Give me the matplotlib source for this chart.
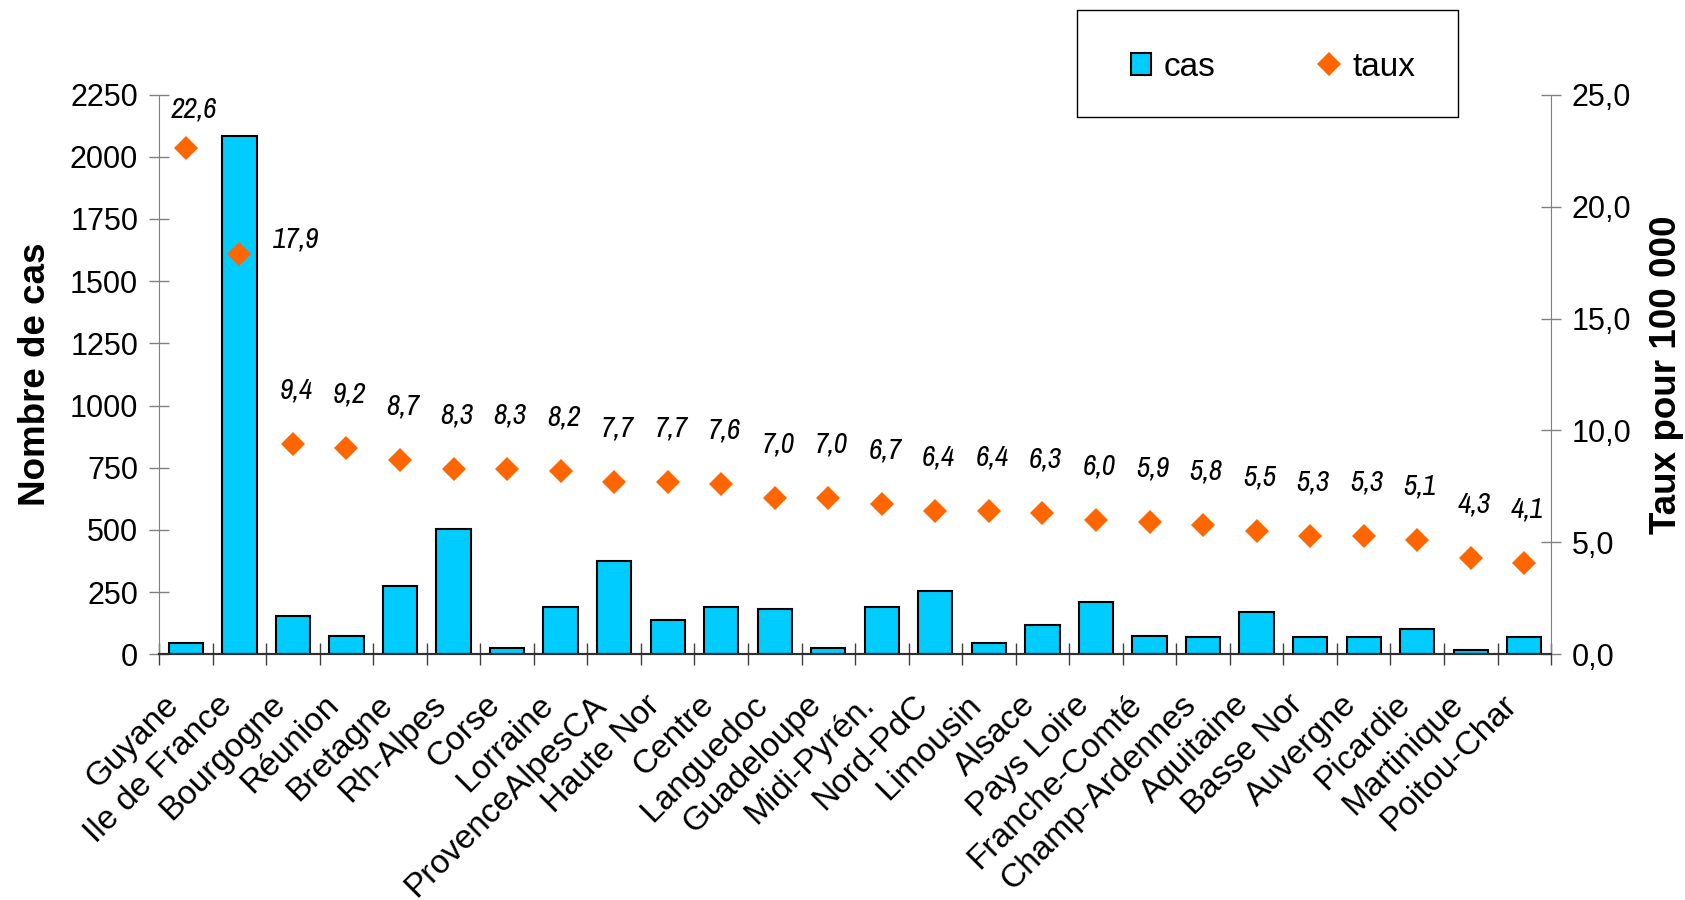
import numpy as np
import matplotlib
matplotlib.use('Agg')
import matplotlib.pyplot as plt
import matplotlib.transforms as mtransforms
from matplotlib.patches import Rectangle
from matplotlib.lines import Line2D

plt.rcParams['font.family'] = ['Liberation Sans', 'DejaVu Sans']

regions = ['Guyane', 'Ile de France', 'Bourgogne', 'Réunion', 'Bretagne', 'Rh-Alpes',
           'Corse', 'Lorraine', 'ProvenceAlpesCA', 'Haute Nor', 'Centre', 'Languedoc',
           'Guadeloupe', 'Midi-Pyrén.', 'Nord-PdC', 'Limousin', 'Alsace', 'Pays Loire',
           'Franche-Comté', 'Champ-Ardennes', 'Aquitaine', 'Basse Nor', 'Auvergne',
           'Picardie', 'Martinique', 'Poitou-Char']
cas = [45, 2085, 153, 72, 274, 503, 25, 191, 376, 137, 191, 181, 25, 191, 256,
       45, 118, 210, 72, 71, 171, 71, 71, 101, 16, 71]
taux = [22.6, 17.9, 9.4, 9.2, 8.7, 8.3, 8.3, 8.2, 7.7, 7.7, 7.6, 7.0, 7.0, 6.7,
        6.4, 6.4, 6.3, 6.0, 5.9, 5.8, 5.5, 5.3, 5.3, 5.1, 4.3, 4.1]

x = np.arange(len(regions))

fig = plt.figure(figsize=(16.85, 9), dpi=100)
ax = fig.add_axes([0.0944, 0.2729, 0.8261, 0.622])
ax2 = ax.twinx()

# bars (left axis)
ax.bar(x, cas, width=0.64, color='#00CCFF', edgecolor='black', linewidth=1.5, zorder=2)
ax.set_xlim(-0.5, len(regions) - 0.5)
ax.set_ylim(0, 2250)
ax.set_yticks(range(0, 2251, 250))

# rates (right axis)
ax2.plot(x, taux, linestyle='none', marker='D', markersize=12.5, color='#FF6600',
         markeredgewidth=0)
ax2.set_ylim(0, 25)
ax2.set_yticks(range(0, 26, 5))
ax2.set_yticklabels([('%.1f' % v).replace('.', ',') for v in range(0, 26, 5)])

# data labels
for i, v in enumerate(taux):
    dx, dy = 3, 54
    if i == 0:
        dx, dy = 8, 39
    elif i == 1:
        dx, dy = 57, 15
    ax2.annotate(('%.1f' % v).replace('.', ','), (x[i], v), xytext=(dx, dy),
                 textcoords='offset pixels', ha='center', va='center',
                 fontsize=21, style='italic',
                 family=['Archivo Narrow', 'DejaVu Sans'])

# x axis: ticks at category boundaries, labels at centres
ax.set_xticks(x)
ax.set_xticklabels(regions, fontsize=24)
ax.set_xticks(np.arange(-0.5, len(regions)), minor=True)
ax.tick_params(axis='x', which='major', length=0, pad=33)
ax.tick_params(axis='x', which='minor', direction='inout', length=16.5, width=1,
               color='#404040')
shift = mtransforms.ScaledTranslation(-12 / 100, 0, fig.dpi_scale_trans)
for lab in ax.get_xticklabels():
    lab.set_rotation(45)
    lab.set_ha('right')
    lab.set_va('center')
    lab.set_rotation_mode('anchor')
    lab.set_transform(lab.get_transform() + shift)

ax.tick_params(axis='y', direction='inout', length=14, width=1, color='#808080',
               labelsize=22, pad=8)
ax2.tick_params(axis='y', direction='inout', length=14, width=1, color='#808080',
                labelsize=22, pad=8)

for a in (ax, ax2):
    a.spines['top'].set_visible(False)
    a.spines['left'].set_color('#808080')
    a.spines['right'].set_color('#808080')
    a.spines['bottom'].set_color('#303030')
    a.spines['bottom'].set_linewidth(1.5)
ax2.spines['left'].set_visible(False)
ax.spines['right'].set_visible(False)

ax.set_ylabel('Nombre de cas', fontsize=26.5, fontweight='bold')
ax.yaxis.set_label_coords(-0.0765, 0.5)
ax2.set_ylabel('Taux pour 100 000', fontsize=26.5, fontweight='bold', rotation=90)
ax2.yaxis.set_label_coords(1.0705, 0.5)

# legend box
fig.patches.append(Rectangle((1077 / 1685, 1 - 117 / 900), 381 / 1685, 107 / 900,
                             transform=fig.transFigure, facecolor='white',
                             edgecolor='black', linewidth=1, zorder=5))
handles = [Rectangle((0, 0), 1, 1, facecolor='#00CCFF', edgecolor='black', linewidth=1.5),
           Line2D([], [], linestyle='none', marker='D', markersize=12.5,
                  color='#FF6600', markeredgewidth=0)]
leg = fig.legend(handles, ['cas', 'taux'], loc='center', ncol=2, frameon=False,
                 bbox_to_anchor=(1273 / 1685, 1 - 67 / 900), fontsize=24,
                 handlelength=0.62, handleheight=0.62, handletextpad=0.38,
                 columnspacing=3.1, borderpad=0)
leg.set_zorder(6)

fig.savefig('out.png', dpi=100)
